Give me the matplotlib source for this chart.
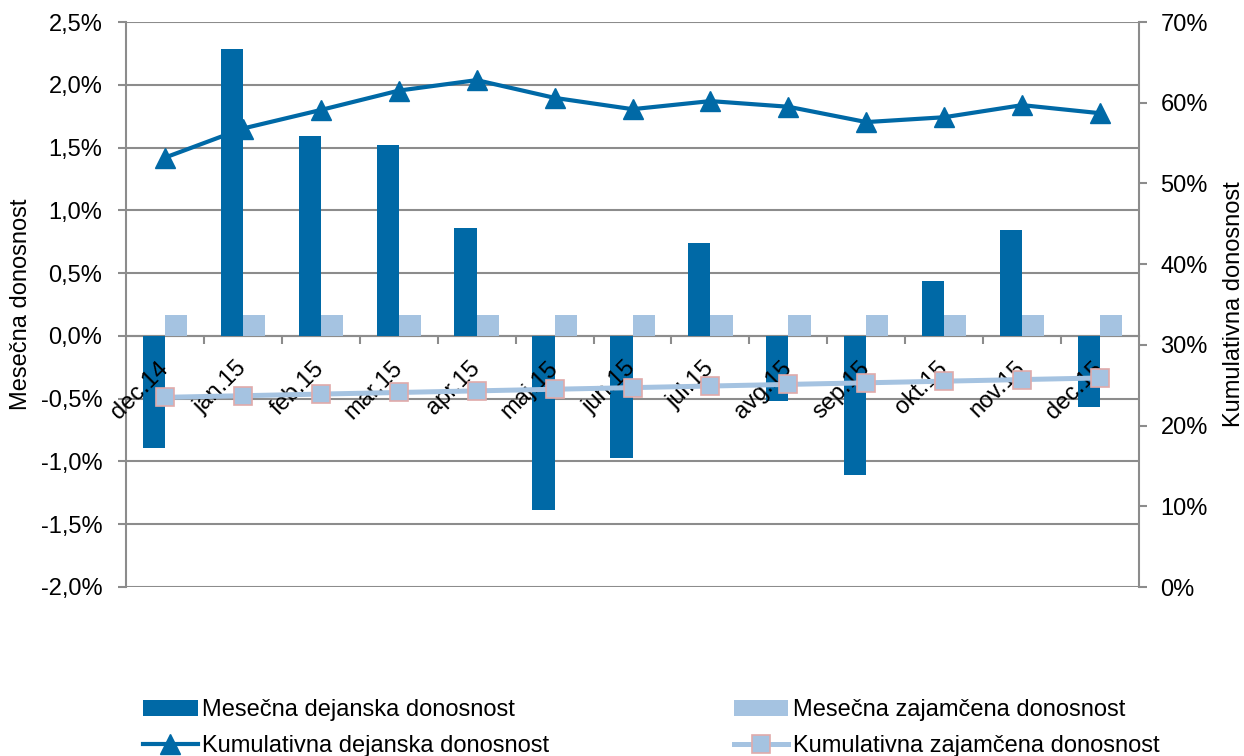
import numpy as np
import matplotlib
matplotlib.use("Agg")
from matplotlib import pyplot as plt
from matplotlib.ticker import FuncFormatter, MultipleLocator

plt.rcParams['font.family'] = ['Liberation Sans', 'DejaVu Sans']

meseci = ['dec.14', 'jan.15', 'feb.15', 'mar.15', 'apr.15', 'maj.15', 'jun.15',
          'jul.15', 'avg.15', 'sep.15', 'okt.15', 'nov.15', 'dec.15']
mesecna_dejanska = [-0.89, 2.285, 1.59, 1.52, 0.86, -1.39, -0.97,
                    0.74, -0.52, -1.11, 0.44, 0.84, -0.57]
mesecna_zajamcena = [0.17] * 13
kum_dejanska = [53.2, 56.8, 59.1, 61.5, 62.8, 60.6, 59.2,
                60.2, 59.5, 57.6, 58.2, 59.7, 58.7]
kum_zajamcena = [23.5, 23.7, 23.9, 24.1, 24.3, 24.5, 24.7,
                 24.9, 25.1, 25.3, 25.5, 25.7, 25.9]

temna = '#0069A6'
svetla = '#A5C3E1'
siva = '#8C8C8C'
fs = 17

fig = plt.figure(figsize=(12.44, 7.56), dpi=100)
ax = fig.add_axes([126/1244, 1-587/756, (1139-126)/1244, (587-22)/756])
ax2 = ax.twinx()

x = np.arange(len(meseci))
w = 0.285
b1 = ax.bar(x - w/2, mesecna_dejanska, w, color=temna, zorder=3,
            label='Mesečna dejanska donosnost')
b2 = ax.bar(x + w/2, mesecna_zajamcena, w, color=svetla, zorder=3,
            label='Mesečna zajamčena donosnost')

l1, = ax2.plot(x, kum_dejanska, color=temna, lw=3, marker='^', ms=14,
               label='Kumulativna dejanska donosnost', zorder=4)
l2, = ax2.plot(x, kum_zajamcena, color=svetla, lw=3.6, marker='s', ms=13.5,
               markerfacecolor=svetla, markeredgecolor='#E0AAAA', mew=1.2,
               label='Kumulativna zajamčena donosnost', zorder=4)

ax.set_xlim(-0.5, len(meseci) - 0.5)
ax.set_ylim(-2.0, 2.5)
ax2.set_ylim(0, 70)
ax.yaxis.set_major_locator(MultipleLocator(0.5))
ax2.yaxis.set_major_locator(MultipleLocator(10))
ax.yaxis.set_major_formatter(FuncFormatter(lambda v, p: ('%.1f%%' % v).replace('.', ',')))
ax2.yaxis.set_major_formatter(FuncFormatter(lambda v, p: '%d%%' % round(v)))

ax.grid(axis='y', color=siva, lw=1.5, zorder=0)
ax.set_axisbelow(True)
# oznake mesecev nad stolpci
ax.xaxis.set_zorder(5)

for a in (ax, ax2):
    a.spines['top'].set_visible(False)
    for s in ('left', 'right', 'bottom'):
        a.spines[s].set_color(siva)
        a.spines[s].set_linewidth(1.5)
ax.spines['right'].set_visible(False)
ax2.spines['left'].set_visible(False)
ax2.spines['bottom'].set_visible(False)
ax.spines['bottom'].set_position(('data', 0))

ax.set_xticks(x)
ax.set_xticklabels(meseci, rotation=45, ha='right', va='center',
                   rotation_mode='anchor', fontsize=fs)
ax.tick_params(axis='x', which='major', length=0, pad=21)
ax.set_xticks(np.arange(0.5, len(meseci) - 0.5), minor=True)
ax.tick_params(axis='x', which='minor', length=6, width=1.5, color=siva, direction='out')

ax.tick_params(axis='y', labelsize=fs, length=6, width=1.5, color=siva, pad=11)
ax2.tick_params(axis='y', labelsize=fs, length=6, width=1.5, color=siva, pad=9.5)

ax.set_ylabel('Mesečna donosnost', fontsize=fs, labelpad=6)
ax2.set_ylabel('Kumulativna donosnost', fontsize=fs, labelpad=11)

fig.legend(handles=[b1, l1, b2, l2], ncol=2, loc='upper left',
           bbox_to_anchor=(122/1244, 1-678/756), frameon=False, fontsize=fs,
           handlelength=2.3, handletextpad=0.2, columnspacing=7.8,
           labelspacing=0.58)

fig.savefig('out.png', dpi=100)
